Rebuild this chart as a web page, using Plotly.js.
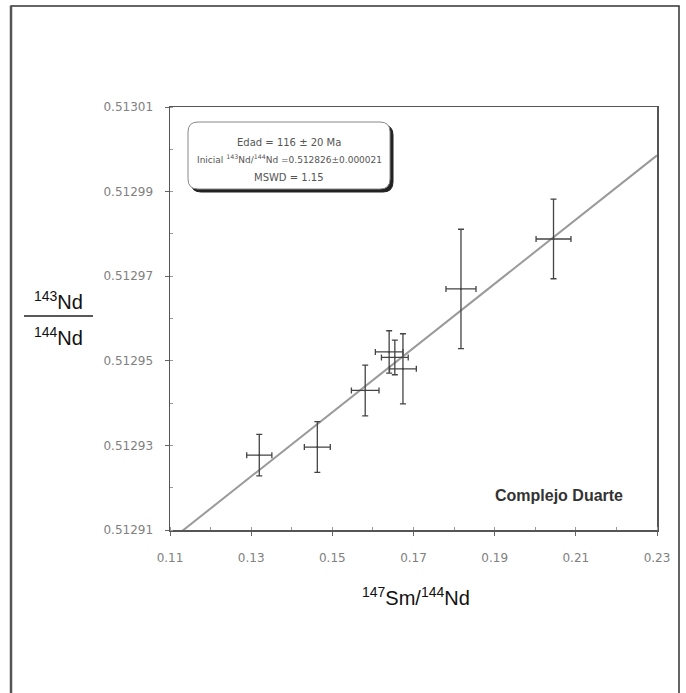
<!DOCTYPE html>
<html>
<head>
<meta charset="utf-8">
<script src="https://cdn.plot.ly/plotly-3.0.1.min.js"></script>
<style>html,body{margin:0;padding:0;background:#fff;}#chart{width:686px;height:693px;}</style>
</head>
<body>
<div id="chart"></div>
<script>
// ---- data ----
var smNd = [0.1320, 0.1463, 0.1581, 0.1640, 0.1654, 0.1674, 0.1817, 0.2045];
var ndNd = [0.5129277, 0.5129296, 0.5129430, 0.5129521, 0.5129508, 0.5129481, 0.5129670, 0.5129788];
var smNdErr = [0.0031, 0.0032, 0.0034, 0.0034, 0.0033, 0.0033, 0.0037, 0.0043];
var ndNdErr = [0.0000049, 0.0000060, 0.0000060, 0.0000050, 0.0000041, 0.0000083, 0.0000141, 0.0000094];
var isoSlope = 0.000759;
var isoIntercept = 0.512824;
var isoX = [0.11, 0.23];
var xTickVals = [0.11, 0.13, 0.15, 0.17, 0.19, 0.21, 0.23];
var xTickText = ['0.11', '0.13', '0.15', '0.17', '0.19', '0.21', '0.23'];
var yTickVals = [0.51291, 0.51293, 0.51295, 0.51297, 0.51299, 0.51301];
var yTickText = ['0.51291', '0.51293', '0.51295', '0.51297', '0.51299', '0.51301'];
var boxLines = ['Edad = 116 ± 20 Ma', 'Inicial <sup>143</sup>Nd/<sup>144</sup>Nd =0.512826±0.000021', 'MSWD = 1.15'];
var label = 'Complejo Duarte';

// ---- layout helpers (pixel -> paper) ----
var L = 170, R = 657, T = 107, B = 530;
function PX(px) { return (px - L) / (R - L); }
function PY(py) { return (B - py) / (B - T); }
function roundRect(x0, y0, x1, y1, r) {
  var a = PX(x0), b = PX(x1), top = PY(y0), bot = PY(y1);
  var rx = r / (R - L), ry = r / (B - T);
  return 'M' + (a + rx) + ',' + top + ' L' + (b - rx) + ',' + top +
    ' Q' + b + ',' + top + ' ' + b + ',' + (top - ry) +
    ' L' + b + ',' + (bot + ry) + ' Q' + b + ',' + bot + ' ' + (b - rx) + ',' + bot +
    ' L' + (a + rx) + ',' + bot + ' Q' + a + ',' + bot + ' ' + a + ',' + (bot + ry) +
    ' L' + a + ',' + (top - ry) + ' Q' + a + ',' + top + ' ' + (a + rx) + ',' + top + ' Z';
}

var isoY = isoX.map(function (x) { return isoIntercept + isoSlope * x; });

var traces = [
  {
    x: isoX, y: isoY, mode: 'lines', type: 'scatter',
    line: { color: '#9a9a9a', width: 2 }, hoverinfo: 'skip'
  },
  {
    x: smNd, y: ndNd, mode: 'markers', type: 'scatter',
    marker: { size: 2, color: '#444' },
    error_x: { type: 'data', array: smNdErr, visible: true, color: '#444', thickness: 1.3, width: 3 },
    error_y: { type: 'data', array: ndNdErr, visible: true, color: '#444', thickness: 1.3, width: 3 }
  }
];

var tickFont = { family: 'DejaVu Sans', size: 12, color: '#808080' };
var titleFont = { family: 'Liberation Sans, Arial, sans-serif', size: 20, color: '#111' };
var boxFont = { family: 'DejaVu Sans', size: 10, color: '#555' };

var layout = {
  width: 686, height: 693,
  margin: { l: L, r: 686 - R, t: T, b: 693 - B },
  paper_bgcolor: '#fff', plot_bgcolor: '#fff',
  showlegend: false,
  xaxis: {
    range: [0.11, 0.23], tickvals: xTickVals, ticktext: xTickText,
    showgrid: false, zeroline: false, showline: true, mirror: true,
    linecolor: '#555', linewidth: 1.5,
    ticks: 'outside', ticklen: 4, tickcolor: '#666', tickwidth: 1,
    minor: { dtick: 0.01, ticks: 'inside', ticklen: 3, tickcolor: '#999', showgrid: false },
    tickfont: tickFont, ticklabelstandoff: 12
  },
  yaxis: {
    range: [0.51291, 0.51301], tickvals: yTickVals, ticktext: yTickText,
    showgrid: false, zeroline: false, showline: true, mirror: true,
    linecolor: '#555', linewidth: 1.5,
    ticks: 'outside', ticklen: 4, tickcolor: '#666', tickwidth: 1,
    minor: { dtick: 0.00001, ticks: 'inside', ticklen: 3, tickcolor: '#999', showgrid: false },
    tickfont: tickFont, ticklabelstandoff: 9
  },
  shapes: [
    // outer frame
    { type: 'rect', xref: 'paper', yref: 'paper', x0: PX(11), x1: PX(679), y0: PY(720), y1: PY(6),
      line: { color: '#333', width: 1.5 }, fillcolor: 'rgba(0,0,0,0)', layer: 'below' },
    { type: 'line', xref: 'paper', yref: 'paper', x0: PX(11), x1: PX(11), y0: PY(720), y1: PY(6),
      line: { color: '#555', width: 2.5 } },
    // y title fraction bar
    { type: 'line', xref: 'paper', yref: 'paper', x0: PX(24), x1: PX(93), y0: PY(316), y1: PY(316),
      line: { color: '#222', width: 1.3 } },
    // text box shadow + box
    { type: 'path', xref: 'paper', yref: 'paper', path: roundRect(191, 125, 393, 192, 10),
      fillcolor: '#222', line: { color: '#222', width: 1 } },
    { type: 'path', xref: 'paper', yref: 'paper', path: roundRect(188, 122, 390, 189, 10),
      fillcolor: '#fff', line: { color: '#888', width: 1 } }
  ],
  annotations: [
    { xref: 'paper', yref: 'paper', x: PX(58), y: PY(300), text: '<sup>143</sup>Nd', showarrow: false,
      font: titleFont, xanchor: 'center', yanchor: 'middle' },
    { xref: 'paper', yref: 'paper', x: PX(58), y: PY(336), text: '<sup>144</sup>Nd', showarrow: false,
      font: titleFont, xanchor: 'center', yanchor: 'middle' },
    { xref: 'paper', yref: 'paper', x: PX(416), y: PY(596), text: '<sup>147</sup>Sm/<sup>144</sup>Nd', showarrow: false,
      font: titleFont, xanchor: 'center', yanchor: 'middle' },
    { xref: 'paper', yref: 'paper', x: PX(289), y: PY(142), text: boxLines[0], showarrow: false,
      font: boxFont, xanchor: 'center', yanchor: 'middle' },
    { xref: 'paper', yref: 'paper', x: PX(289), y: PY(159), text: boxLines[1], showarrow: false,
      font: { family: 'DejaVu Sans', size: 9, color: '#555' }, xanchor: 'center', yanchor: 'middle' },
    { xref: 'paper', yref: 'paper', x: PX(289), y: PY(177), text: boxLines[2], showarrow: false,
      font: boxFont, xanchor: 'center', yanchor: 'middle' },
    { xref: 'paper', yref: 'paper', x: PX(559), y: PY(495), text: '<b>' + label + '</b>', showarrow: false,
      font: { family: 'Liberation Sans, Arial, sans-serif', size: 16, color: '#333' }, xanchor: 'center', yanchor: 'middle' }
  ]
};

Plotly.newPlot('chart', traces, layout, { staticPlot: true, displayModeBar: false });
</script>
</body>
</html>
